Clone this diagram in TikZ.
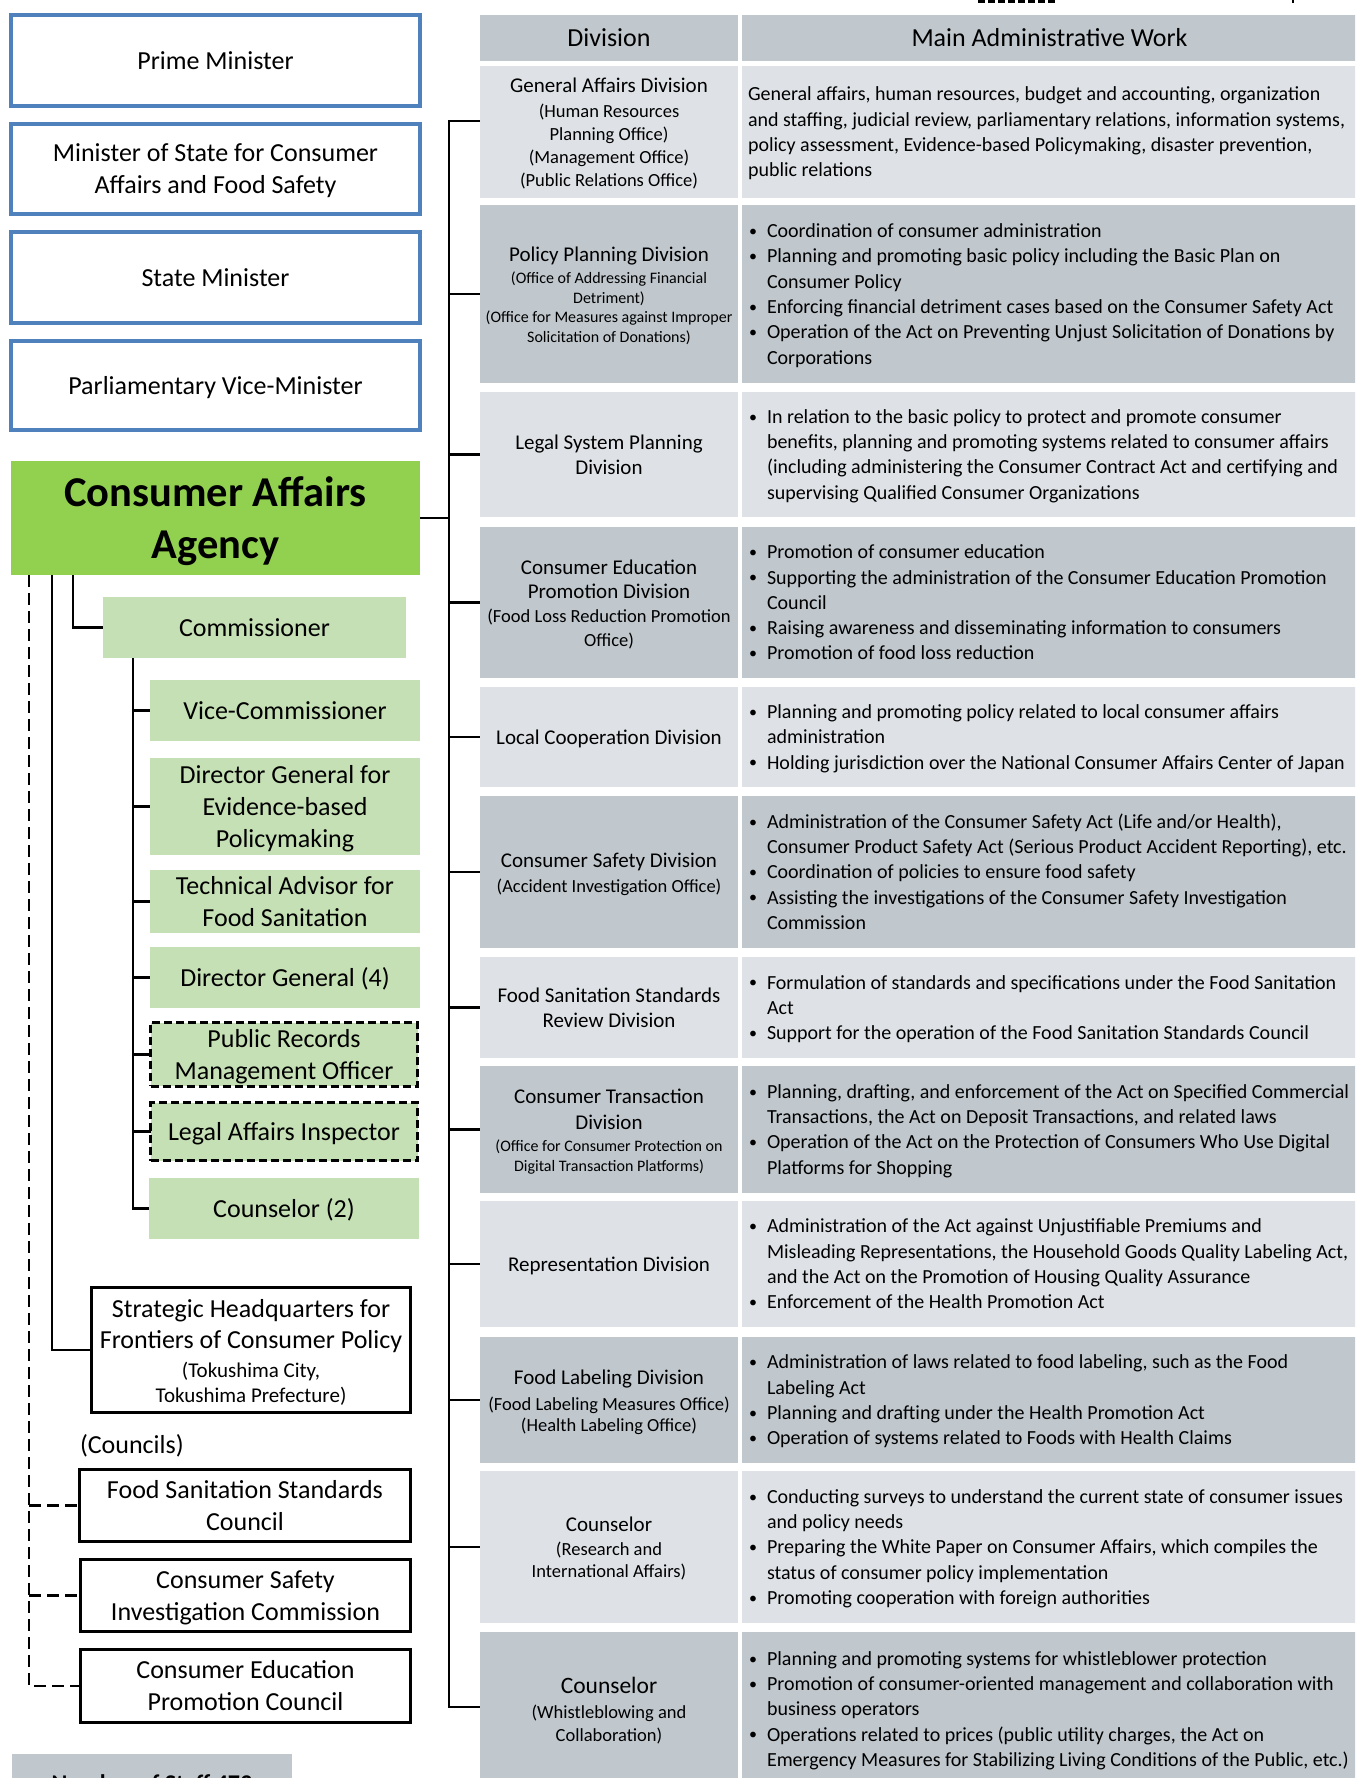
\documentclass[tikz,border=0pt]{standalone}
\usepackage{fontspec}
\setmainfont{Carlito}
\definecolor{bluebox}{RGB}{79,129,189}
\definecolor{caagreen}{RGB}{146,208,80}
\definecolor{lightgreen}{RGB}{197,224,180}
\definecolor{rowdark}{RGB}{192,200,206}
\definecolor{rowlight}{RGB}{222,226,230}
\newcommand{\bu}{\makebox[19pt][l]{\hspace{1pt}\raisebox{1.2pt}{\scalebox{0.8}{\textbullet}}}}
\newcommand{\ind}{\hspace*{19pt}}
\newcommand{\divmain}{\fontsize{21}{25}\selectfont}
\newcommand{\wst}{\rule{0pt}{0.952em}}
\newcommand{\wsb}{\rule[-0.269em]{0pt}{0.269em}}
\begin{document}
\begin{tikzpicture}[x=1pt,y=-1pt,line join=miter,
  every node/.style={inner sep=0pt,outer sep=0pt},
  officebox/.style={draw=bluebox,line width=4.5pt,fill=white,align=center,font=\fontsize{26}{32}\selectfont,minimum width=409pt},
  greenbox/.style={fill=lightgreen,align=center,font=\fontsize{26}{32}\selectfont},
  dgreenbox/.style={greenbox,draw=black,line width=3pt,dash pattern=on 8pt off 4pt},
  blackbox/.style={draw=black,line width=3pt,fill=white,align=center,font=\fontsize{26}{32}\selectfont},
  conn/.style={draw=black,line width=2.8pt},
  dconn/.style={draw=black,line width=2.6pt,dash pattern=on 12pt off 6pt},
  divcell/.style={minimum width=258pt,align=center},
  workcell/.style={minimum width=615pt},
  worktext/.style={anchor=west,xshift=6pt,align=left,font=\fontsize{20}{25.3}\selectfont},
  dark/.style={fill=rowdark},
  light/.style={fill=rowlight}]
\useasboundingbox (0,0) rectangle (1355,1778);
\clip (0,0) rectangle (1355,1778);

% ---------- top fragments ----------
\draw[line width=3pt,dash pattern=on 7pt off 3pt] (978,1) -- (1057,1);
\draw[line width=1.5pt] (1293,0) -- (1293,3);

% ---------- left column ----------
\node[officebox,minimum height=91pt] (pm) at (215.5,60.5) {\wst Prime Minister\wsb};
\node[officebox,minimum height=90pt] (mos) at (215.5,169) {\wst Minister of State for Consumer\\Affairs and Food Safety\wsb};
\node[officebox,minimum height=91pt] (sm) at (215.5,277.5) {\wst State Minister\wsb};
\node[officebox,minimum height=89pt] (pvm) at (215.5,385.5) {\wst Parliamentary Vice-Minister\wsb};

\node[fill=caagreen,minimum width=409pt,minimum height=114pt,align=center,font=\bfseries\fontsize{42.5}{52}\selectfont] (caa) at (215.5,518) {\wst Consumer Affairs\\Agency\wsb};

\node[greenbox,minimum width=303pt,minimum height=61pt] (comm) at (254.5,627.5) {\wst Commissioner\wsb};
\node[greenbox,minimum width=270pt,minimum height=61pt] (vc) at (285,710.5) {\wst Vice-Commissioner\wsb};
\node[greenbox,minimum width=270pt,minimum height=97pt] (dge) at (285,806.5) {\wst Director General for\\Evidence-based\\Policymaking\wsb};
\node[greenbox,minimum width=270pt,minimum height=61pt] (ta) at (285,901.5) {\wst Technical Advisor for\\Food Sanitation\wsb};
\node[greenbox,minimum width=270pt,minimum height=61pt] (dg4) at (285,977.5) {\wst Director General (4)\wsb};
\node[dgreenbox,minimum width=267pt,minimum height=58pt] (pr) at (284,1054.5) {\wst Public Records\\Management Officer\wsb};
\node[dgreenbox,minimum width=267pt,minimum height=58pt] (la) at (284,1131.5) {\wst Legal Affairs Inspector\wsb};
\node[greenbox,minimum width=270pt,minimum height=61pt] (c2) at (284,1208.5) {\wst Counselor (2)\wsb};

\node[blackbox,minimum width=319pt,minimum height=125pt,font=\fontsize{21}{25}\selectfont] (shq) at (251,1350) {{\fontsize{26}{32}\selectfont\wst Strategic Headquarters for}\\[6pt]{\fontsize{26}{32}\selectfont Frontiers of Consumer Policy}\\[4pt](Tokushima City,\\Tokushima Prefecture)\wsb};

\node[anchor=west,font=\fontsize{26}{32}\selectfont] (councils) at (80,1445) {\wst(Councils)\wsb};
\node[blackbox,minimum width=331pt,minimum height=72pt] (fssc) at (245,1505.5) {\wst Food Sanitation Standards\\Council\wsb};
\node[blackbox,minimum width=330pt,minimum height=72pt] (csic) at (245.5,1595.5) {\wst Consumer Safety\\Investigation Commission\wsb};
\node[blackbox,minimum width=330pt,minimum height=73pt] (cepc) at (245.5,1686) {\wst Consumer Education\\Promotion Council\wsb};

\node[fill=rowdark,minimum width=280pt,minimum height=50pt,anchor=north west] (staff) at (12,1754) {};
\node[anchor=base,font=\bfseries\fontsize{24}{28}\selectfont] (stafftext) at (152,1791.5) {Number of Staff 473};

% left connectors
\coordinate (dl) at (29,575);
\coordinate (sl) at (52,575);
\coordinate (cl) at (73,575);
\coordinate (st) at (133,658);
\draw[dconn] (dl) |- (cepc.west);
\draw[dconn] (fssc.west -| dl) -- (fssc.west);
\draw[dconn] (csic.west -| dl) -- (csic.west);
\draw[conn] (sl) |- (shq.west);
\draw[conn] (cl) |- (comm.west);
\draw[conn] (st) |- (c2.west);
\foreach \b in {vc,dge,ta,dg4,pr,la} \draw[conn] (\b.west -| st) -- (\b.west);

% ---------- table ----------
\node[divcell,dark,minimum height=46pt,font=\fontsize{26}{30}\selectfont] (hdiv) at (609,38) {\wst Division\wsb};
\node[workcell,dark,minimum height=46pt,font=\fontsize{26}{30}\selectfont] (hwork) at (1049.5,38) {\wst Main Administrative Work\wsb};

% 1 General Affairs
\node[divcell,light,minimum height=132pt,font=\fontsize{18.5}{22.7}\selectfont] (d1) at (609,132) {{\divmain\wst General Affairs Division}\\[2.3pt](Human Resources\\Planning Office)\\(Management Office)\\(Public Relations Office)\wsb};
\node[workcell,light,minimum height=132pt] (w1) at (1049.5,132) {};
\node[worktext] (wt1) at (w1.west) {\wst General affairs, human resources, budget and accounting, organization\\and staffing, judicial review, parliamentary relations, information systems,\\policy assessment, Evidence-based Policymaking, disaster prevention,\\public relations\wsb};

% 2 Policy Planning
\node[divcell,dark,minimum height=178pt,font=\fontsize{16}{19.5}\selectfont] (d2) at (609,294) {{\divmain\wst Policy Planning Division}\\[2.5pt](Office of Addressing Financial\\Detriment)\\(Office for Measures against Improper\\Solicitation of Donations)\wsb};
\node[workcell,dark,minimum height=178pt] (w2) at (1049.5,294) {};
\node[worktext] (wt2) at (w2.west) {\wst\bu Coordination of consumer administration\\\bu Planning and promoting basic policy including the Basic Plan on\\\ind Consumer Policy\\\bu Enforcing financial detriment cases based on the Consumer Safety Act\\\bu Operation of the Act on Preventing Unjust Solicitation of Donations by\\\ind Corporations\wsb};

% 3 Legal System Planning
\node[divcell,light,minimum height=125pt,font=\fontsize{21}{25}\selectfont] (d3) at (609,454.5) {\wst Legal System Planning\\Division\wsb};
\node[workcell,light,minimum height=125pt] (w3) at (1049.5,454.5) {};
\node[worktext] (wt3) at (w3.west) {\wst\bu In relation to the basic policy to protect and promote consumer\\\ind benefits, planning and promoting systems related to consumer affairs\\\ind (including administering the Consumer Contract Act and certifying and\\\ind supervising Qualified Consumer Organizations\wsb};

% 4 Consumer Education Promotion
\node[divcell,dark,minimum height=151pt,font=\fontsize{18.5}{24}\selectfont] (d4) at (609,602.5) {{\divmain\wst Consumer Education}\\{\divmain Promotion Division}\\(Food Loss Reduction Promotion\\Office)\wsb};
\node[workcell,dark,minimum height=151pt] (w4) at (1049.5,602.5) {};
\node[worktext] (wt4) at (w4.west) {\wst\bu Promotion of consumer education\\\bu Supporting the administration of the Consumer Education Promotion\\\ind Council\\\bu Raising awareness and disseminating information to consumers\\\bu Promotion of food loss reduction\wsb};

% 5 Local Cooperation
\node[divcell,light,minimum height=100pt,font=\divmain] (d5) at (609,737) {\wst Local Cooperation Division\wsb};
\node[workcell,light,minimum height=100pt] (w5) at (1049.5,737) {};
\node[worktext] (wt5) at (w5.west) {\wst\bu Planning and promoting policy related to local consumer affairs\\\ind administration\\\bu Holding jurisdiction over the National Consumer Affairs Center of Japan\wsb};

% 6 Consumer Safety
\node[divcell,dark,minimum height=152pt,font=\fontsize{18.5}{25}\selectfont] (d6) at (609,872) {{\divmain\wst Consumer Safety Division}\\(Accident Investigation Office)\wsb};
\node[workcell,dark,minimum height=152pt] (w6) at (1049.5,872) {};
\node[worktext] (wt6) at (w6.west) {\wst\bu Administration of the Consumer Safety Act (Life and/or Health),\\\ind Consumer Product Safety Act (Serious Product Accident Reporting), etc.\\\bu Coordination of policies to ensure food safety\\\bu Assisting the investigations of the Consumer Safety Investigation\\\ind Commission\wsb};

% 7 Food Sanitation Standards Review
\node[divcell,light,minimum height=101pt,font=\divmain] (d7) at (609,1007.5) {\wst Food Sanitation Standards\\Review Division\wsb};
\node[workcell,light,minimum height=101pt] (w7) at (1049.5,1007.5) {};
\node[worktext] (wt7) at (w7.west) {\wst\bu Formulation of standards and specifications under the Food Sanitation\\\ind Act\\\bu Support for the operation of the Food Sanitation Standards Council\wsb};

% 8 Consumer Transaction
\node[divcell,dark,minimum height=127pt,font=\fontsize{16}{19.5}\selectfont] (d8) at (609,1129.5) {{\divmain\wst Consumer Transaction}\\[6.5pt]{\divmain Division}\\[3pt](Office for Consumer Protection on\\Digital Transaction Platforms)\wsb};
\node[workcell,dark,minimum height=127pt] (w8) at (1049.5,1129.5) {};
\node[worktext] (wt8) at (w8.west) {\wst\bu Planning, drafting, and enforcement of the Act on Specified Commercial\\\ind Transactions, the Act on Deposit Transactions, and related laws\\\bu Operation of the Act on the Protection of Consumers Who Use Digital\\\ind Platforms for Shopping\wsb};

% 9 Representation
\node[divcell,light,minimum height=126pt,font=\divmain] (d9) at (609,1264) {\wst Representation Division\wsb};
\node[workcell,light,minimum height=126pt] (w9) at (1049.5,1264) {};
\node[worktext] (wt9) at (w9.west) {\wst\bu Administration of the Act against Unjustifiable Premiums and\\\ind Misleading Representations, the Household Goods Quality Labeling Act,\\\ind and the Act on the Promotion of Housing Quality Assurance\\\bu Enforcement of the Health Promotion Act\wsb};

% 10 Food Labeling
\node[divcell,dark,minimum height=126pt,font=\fontsize{18.5}{21}\selectfont] (d10) at (609,1400) {{\divmain\wst Food Labeling Division}\\[5pt](Food Labeling Measures Office)\\(Health Labeling Office)\wsb};
\node[workcell,dark,minimum height=126pt] (w10) at (1049.5,1400) {};
\node[worktext] (wt10) at (w10.west) {\wst\bu Administration of laws related to food labeling, such as the Food\\\ind Labeling Act\\\bu Planning and drafting under the Health Promotion Act\\\bu Operation of systems related to Foods with Health Claims\wsb};

% 11 Counselor (Research)
\node[divcell,light,minimum height=152pt,font=\fontsize{18.5}{22}\selectfont] (d11) at (609,1547) {{\divmain\wst Counselor}\\[2pt](Research and\\International Affairs)\wsb};
\node[workcell,light,minimum height=152pt] (w11) at (1049.5,1547) {};
\node[worktext] (wt11) at (w11.west) {\wst\bu Conducting surveys to understand the current state of consumer issues\\\ind and policy needs\\\bu Preparing the White Paper on Consumer Affairs, which compiles the\\\ind status of consumer policy implementation\\\bu Promoting cooperation with foreign authorities\wsb};

% 12 Counselor (Whistleblowing)
\node[divcell,dark,minimum height=154pt,font=\fontsize{18.5}{23}\selectfont] (d12) at (609,1709) {{\fontsize{23.5}{28}\selectfont\wst Counselor}\\[2pt](Whistleblowing and\\Collaboration)\wsb};
\node[workcell,dark,minimum height=154pt] (w12) at (1049.5,1709) {};
\node[worktext] (wt12) at (w12.west) {\wst\bu Planning and promoting systems for whistleblower protection\\\bu Promotion of consumer-oriented management and collaboration with\\\ind business operators\\\bu Operations related to prices (public utility charges, the Act on\\\ind Emergency Measures for Stabilizing Living Conditions of the Public, etc.)\wsb};

% trunk connectors
\coordinate (trk) at (449,121);
\coordinate (trkb) at (449,1707);
\draw[conn] (trk -| d1.west) -- (trk) -- (trkb) -- (trkb -| d12.west);
\foreach \n in {2,...,11} \draw[conn] (d\n.west -| trk) -- (d\n.west);
\draw[conn] (caa.east) -- (caa.east -| trk);
\end{tikzpicture}
\end{document}
